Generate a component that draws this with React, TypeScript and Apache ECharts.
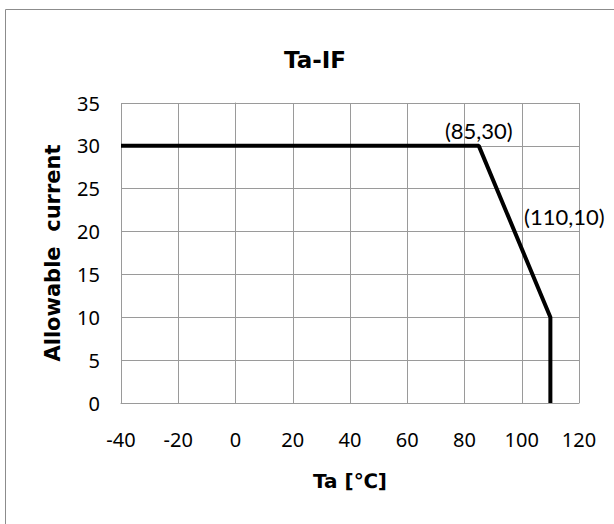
import React, { useEffect, useRef } from "react";
import * as echarts from "echarts";

const titleText = "Ta-IF";
const xName = "Ta [℃]";
const yName = "Allowable  current";
const xMin = -40;
const xMax = 120;
const xStep = 20;
const yMin = 0;
const yMax = 35;
const yStep = 5;
const tempValues = [-40, 85, 110, 110];
const currentValues = [30, 30, 10, 0];
const pointLabels = ["", "(85,30)", "(110,10)", ""];

export default function App() {
  const ref = useRef<HTMLDivElement>(null);
  useEffect(() => {
    if (!ref.current) return;
    const chart = echarts.init(ref.current, null, { renderer: "svg" });
    const data = tempValues.map((t, i) => {
      const item: any = { value: [t, currentValues[i]] };
      if (i === 1) {
        item.label = {
          show: true,
          formatter: pointLabels[i],
          position: "top",
          distance: 4,
        };
      } else if (i === 2) {
        item.label = {
          show: true,
          formatter: pointLabels[i],
          position: "top",
          distance: 5,
          offset: [14, -84],
        };
      }
      return item;
    });
    chart.setOption({
      animation: false,
      backgroundColor: "#ffffff",
      title: {
        text: titleText,
        left: 279,
        top: 43,
        textStyle: {
          fontFamily: "DejaVu Sans",
          fontWeight: "bold",
          fontSize: 23,
          color: "#000",
        },
      },
      graphic: [
        {
          type: "rect",
          shape: { x: 5.5, y: 9.5, width: 700, height: 600 },
          style: { fill: "none", stroke: "#8c8c8c", lineWidth: 1 },
          silent: true,
        },
      ],
      grid: { left: 121, right: 35, top: 103, bottom: 121 },
      xAxis: {
        type: "value",
        min: xMin,
        max: xMax,
        interval: xStep,
        name: xName,
        nameLocation: "middle",
        nameGap: 68,
        nameTextStyle: {
          fontFamily: "DejaVu Sans",
          fontWeight: "bold",
          fontSize: 20,
          color: "#000",
        },
        axisLine: { show: true, lineStyle: { color: "#9a9a9a", width: 1 } },
        axisTick: { show: false },
        axisLabel: {
          margin: 26,
          fontFamily: "Noto Sans",
          fontSize: 20,
          color: "#000",
        },
        splitLine: { show: true, lineStyle: { color: "#9a9a9a", width: 1 } },
      },
      yAxis: {
        type: "value",
        min: yMin,
        max: yMax,
        interval: yStep,
        name: yName,
        nameLocation: "middle",
        nameGap: 58,
        nameTextStyle: {
          fontFamily: "DejaVu Sans",
          fontWeight: "bold",
          fontSize: 21,
          color: "#000",
        },
        axisLine: { show: true, lineStyle: { color: "#9a9a9a", width: 1 } },
        axisTick: { show: false },
        axisLabel: {
          margin: 21,
          fontFamily: "Noto Sans",
          fontSize: 20,
          color: "#000",
        },
        splitLine: { show: true, lineStyle: { color: "#9a9a9a", width: 1 } },
      },
      series: [
        {
          type: "line",
          data,
          showSymbol: true,
          showAllSymbol: true,
          symbol: "circle",
          symbolSize: 1,
          itemStyle: { color: "rgba(0,0,0,0)", borderWidth: 0 },
          lineStyle: { color: "#000", width: 4 },
          label: {
            fontFamily: "Lato",
            fontSize: 22,
            color: "#000",
            opacity: 1,
          },
        },
      ],
    });
    return () => chart.dispose();
  }, []);
  return (
    <div
      ref={ref}
      style={{ position: "absolute", left: 0, top: 0, width: 614, height: 524 }}
    />
  );
}
